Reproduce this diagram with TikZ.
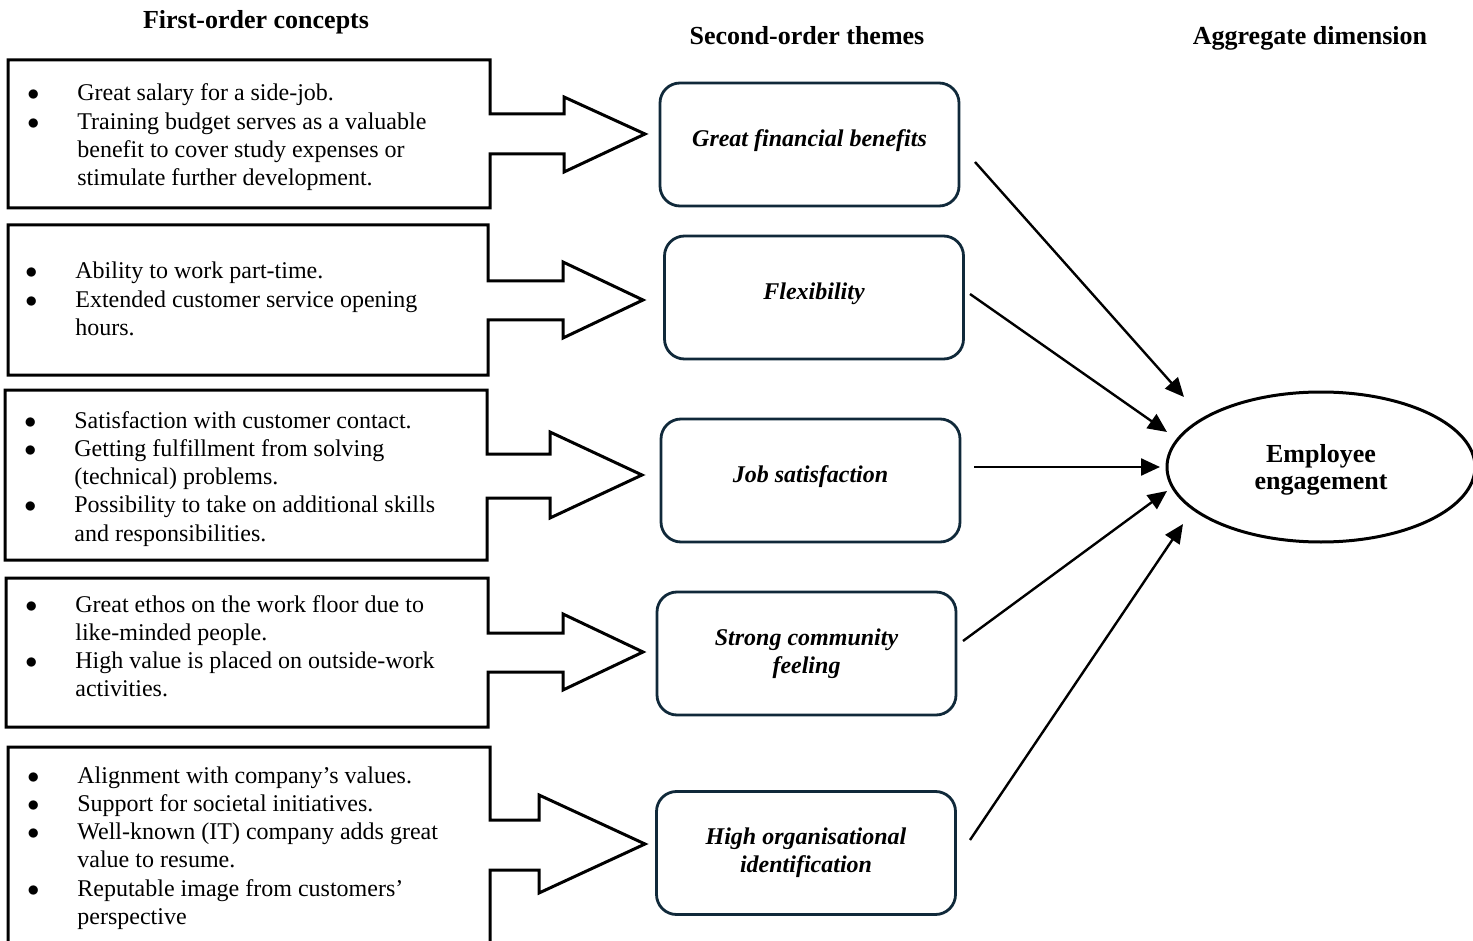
\documentclass[tikz,border=0pt]{standalone}
\usepackage{fontspec}
\setmainfont{Liberation Serif}
\usetikzlibrary{shapes.geometric,arrows.meta}
\definecolor{themeline}{HTML}{10293A}
% bullet hung to the left of the item text
\newcommand{\bul}{\leavevmode\llap{$\bullet$\hspace{19pt}}}
% single-line label sitting just below the node centre
\newcommand{\onbase}[1]{\raisebox{-1.2pt}[0pt][0pt]{#1}}

\begin{document}
\begin{tikzpicture}[x=0.5pt,y=-0.5pt,
  concept/.style={draw=black,line width=1.5pt,fill=white,line join=miter},
  concepttext/.style={anchor=base west,inner sep=0pt,text width=215pt,align=flush left,
    font=\fontsize{12}{14.15}\selectfont},
  theme/.style={draw=themeline,line width=1.4pt,rounded corners=10pt,
    minimum width=149.5pt,minimum height=61.5pt,align=center,inner sep=2pt,
    font=\fontsize{12}{14.2}\selectfont\bfseries\itshape},
  header/.style={anchor=base,inner sep=0pt,font=\fontsize{13}{15}\selectfont\bfseries},
  link/.style={line width=1.2pt,-{Triangle[length=9.5pt,width=8.5pt]}}
]
\useasboundingbox (0,0) rectangle (1473,941);
\fill[white] (0,0) rectangle (1473,941);
\clip (0,0) rectangle (1473,941);

% column headers
\node[header] (h1) at (256,29) {First-order concepts};
\node[header] (h2) at (807,45) {Second-order themes};
\node[header] (h3) at (1310,45) {Aggregate dimension};

% first-order concept boxes, each with its block arrow
\draw[concept] (8,60) -- (490,60) -- (490,114) -- (564,114) -- (564,97) -- (645,134)
  -- (564,172) -- (564,154) -- (490,154) -- (490,208) -- (8,208) -- cycle;
\draw[concept] (8,225) -- (488,225) -- (488,281) -- (563,281) -- (563,262) -- (643,300)
  -- (563,338) -- (563,320) -- (488,320) -- (488,375) -- (8,375) -- cycle;
\draw[concept] (5,390) -- (487,390) -- (487,454) -- (550,454) -- (550,432) -- (642,475)
  -- (550,518) -- (550,498) -- (487,498) -- (487,560) -- (5,560) -- cycle;
\draw[concept] (6,578) -- (488,578) -- (488,633) -- (563,633) -- (563,614) -- (643,652)
  -- (563,690) -- (563,672) -- (488,672) -- (488,727) -- (6,727) -- cycle;
\draw[concept] (8,747) -- (490,747) -- (490,820) -- (539,820) -- (539,795) -- (645,844)
  -- (539,893) -- (539,870) -- (490,870) -- (490,960) -- (8,960) -- cycle;

\node[concepttext] (c1) at (77,101) {\bul Great salary for a side-job.\\
  \bul Training budget serves as a valuable\\ benefit to cover study expenses or\\
  stimulate further development.};
\node[concepttext] (c2) at (75,279) {\bul Ability to work part-time.\\
  \bul Extended customer service opening\\ hours.};
\node[concepttext] (c3) at (74,428) {\bul Satisfaction with customer contact.\\
  \bul Getting fulfillment from solving\\ (technical) problems.\\
  \bul Possibility to take on additional skills\\ and responsibilities.};
\node[concepttext] (c4) at (75,612) {\bul Great ethos on the work floor due to\\
  like-minded people.\\ \bul High value is placed on outside-work\\ activities.};
\node[concepttext] (c5) at (77,783) {\bul Alignment with company’s values.\\
  \bul Support for societal initiatives.\\
  \bul Well-known (IT) company adds great\\ value to resume.\\
  \bul Reputable image from customers’\\ perspective};

% second-order themes
\node[theme] (fin)   at (809.5,144.5) {\onbase{Great financial benefits}};
\node[theme] (flex)  at (814,297.5)   {\onbase{Flexibility}};
\node[theme] (job)   at (810.5,480.5) {\onbase{Job satisfaction}};
\node[theme] (comm)  at (806.5,653.5) {Strong community\\feeling};
\node[theme] (ident) at (806,853)     {High organisational\\identification};

% aggregate dimension
\node[draw,ellipse,line width=1.5pt,minimum width=154pt,minimum height=75pt,inner sep=0pt,
  align=center,font=\fontsize{13}{13.5}\selectfont\bfseries] (eng) at (1321,467)
  {\rule{0pt}{12pt}Employee\\engagement};

% links from themes to the aggregate dimension
\coordinate (s1) at (975,162);  \coordinate (e1) at (1184,397);
\coordinate (s2) at (970,294);  \coordinate (e2) at (1167,432);
\coordinate (s3) at (974,467);  \coordinate (e3) at (1160,467);
\coordinate (s4) at (963,641);  \coordinate (e4) at (1167,491);
\coordinate (s5) at (970,840);  \coordinate (e5) at (1183,524);
\draw[link] (s1) -- (e1);
\draw[link] (s2) -- (e2);
\draw[link] (s3) -- (e3);
\draw[link] (s4) -- (e4);
\draw[link] (s5) -- (e5);
\end{tikzpicture}
\end{document}
